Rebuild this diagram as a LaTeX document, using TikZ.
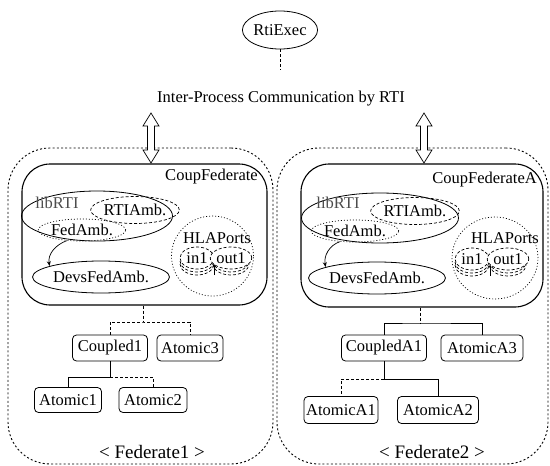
\documentclass[tikz,border=0pt]{standalone}
\usepackage{fontspec}
\setmainfont{Liberation Serif}
\usetikzlibrary{shapes.geometric,arrows.meta}
\begin{document}
\begin{tikzpicture}[x=1pt,y=-1pt,
  every node/.style={font=\fontsize{16.5}{18}\selectfont},
  lbl/.style={inner sep=0pt},
  elli/.style={ellipse, draw, line width=0.8pt, inner sep=0pt},
  dashelli/.style={ellipse, draw, line width=0.7pt, dash pattern=on 3pt off 2pt, inner sep=0pt},
  dotelli/.style={ellipse, draw, line width=0.7pt, dash pattern=on 1pt off 2pt, inner sep=0pt},
  mbox/.style={draw, rounded corners=4pt, line width=0.8pt, minimum height=26pt, inner sep=0pt},
  fedbox/.style={draw, dash pattern=on 2pt off 2.2pt, line width=0.9pt, rounded corners=42pt, inner sep=0pt},
  coupbox/.style={draw, line width=1.1pt, rounded corners=28pt, inner sep=0pt},
  link/.style={line width=0.7pt},
  dlink/.style={line width=0.7pt, dash pattern=on 3pt off 2pt},
  bigtitle/.style={inner sep=0pt, font=\fontsize{19}{21}\selectfont},
  ipcarrow/.pic={
    \draw[line width=0.7pt, fill=white]
      (0,-25) -- (8,-12) -- (3.5,-12) -- (3.5,12) -- (8,12) -- (0,25)
      -- (-8,12) -- (-3.5,12) -- (-3.5,-12) -- (-8,-12) -- cycle;
  },
]
\useasboundingbox (0,0) rectangle (550,466);

% RTI executive and the communication layer
\node[ellipse, draw, line width=0.8pt, minimum width=72pt, minimum height=38pt, inner sep=0pt] (rti) at (280,30) {RtiExec};
\coordinate (rtiend) at (280,70);
\draw[dlink] (rti.south) -- (rtiend);
\node[lbl] (ipc) at (281,99) {Inter-Process Communication by RTI};

% ---------------- Federate 1 ----------------
\node[fedbox, minimum width=265pt, minimum height=316pt] (fed1) at (140.5,306) {};
\node[coupbox, minimum width=245pt, minimum height=141pt] (cp1) at (144.5,234.5) {};
\pic at (151,138) {ipcarrow};
\node[lbl, anchor=east] (cp1lbl) at (258,177) {CoupFederate};

\node[elli, minimum width=151pt, minimum height=50pt] (lib1) at (97,216) {};
\node[lbl, text=black!70] (lib1lbl) at (57,203) {libRTI};
\node[dashelli, minimum width=80pt, minimum height=27pt] (rtiamb1) at (135,210) {RTIAmb.};
\node[dotelli, minimum width=70pt, minimum height=22pt] (fedamb1) at (82,230) {FedAmb.};
\node[elli, minimum width=137pt, minimum height=32pt] (devs1) at (101,277) {DevsFedAmb.};
\draw[link, -{Stealth[length=5pt,width=4pt]}] (fedamb1.215) to[out=200, in=100] (devs1.168);

\node[dotelli, minimum width=82pt, minimum height=80pt] (hla1) at (212.5,256) {};
\node[lbl] (hla1lbl) at (217,238) {HLAPorts};
\foreach \dy in {3,6} {
  \draw[dlink] (180,258+\dy) arc[start angle=180, end angle=0, x radius=17, y radius=11];
  \draw[dlink] (213,258+\dy) arc[start angle=180, end angle=0, x radius=18, y radius=11];
}
\node[dashelli, minimum width=34pt, minimum height=22pt, fill=white] (in1) at (197,258) {in1};
\node[dashelli, minimum width=36pt, minimum height=22pt, fill=white] (out1) at (231,258) {out1};
\coordinate (port1) at (214,275);
\draw[link, -{Stealth[length=3pt,width=3pt]}] (port1) -- (214,264);

\node[mbox, minimum width=75pt] (c1) at (110,348) {Coupled1};
\node[mbox, minimum width=66pt] (a3) at (190,348) {Atomic3};
\node[mbox, minimum width=67pt, minimum height=25pt] (a1) at (68,400) {Atomic1};
\node[mbox, minimum width=68pt, minimum height=25pt] (a2) at (153,400) {Atomic2};
\coordinate (j1) at (143,322);
\coordinate (k1) at (110,377);
\draw[dlink] (cp1.south -| j1) -- (j1);
\draw[dlink] (c1.north) |- (j1) -| (a3.north);
\draw[link] (c1.south) -- (k1) -| (a1.north);
\draw[dlink] (k1) -| (a2.north);
\node[bigtitle] (f1lbl) at (152,452) {< Federate1 >};

% ---------------- Federate 2 ----------------
\node[fedbox, minimum width=271pt, minimum height=316pt] (fed2) at (412.5,306) {};
\node[coupbox, minimum width=242pt, minimum height=143pt] (cp2) at (422,235.5) {};
\pic at (424,138) {ipcarrow};
\node[lbl, anchor=east] (cp2lbl) at (537,180) {CoupFederateA};

\node[elli, minimum width=157pt, minimum height=50pt] (lib2) at (380,218) {};
\node[lbl, text=black!70] (lib2lbl) at (338,203) {libRTI};
\node[dashelli, minimum width=80pt, minimum height=27pt] (rtiamb2) at (415,211) {RTIAmb.};
\node[dotelli, minimum width=70pt, minimum height=22pt] (fedamb2) at (355,231) {FedAmb.};
\node[elli, minimum width=137pt, minimum height=32pt] (devs2) at (377,278) {DevsFedAmb.};
\draw[link, -{Stealth[length=5pt,width=4pt]}] (fedamb2.215) to[out=200, in=100] (devs2.168);

\node[dotelli, minimum width=86pt, minimum height=82pt] (hla2) at (495,258) {};
\node[lbl] (hla2lbl) at (505,238) {HLAPorts};
\foreach \dy in {3,6} {
  \draw[dlink] (455,259+\dy) arc[start angle=180, end angle=0, x radius=17, y radius=11];
  \draw[dlink] (490,259+\dy) arc[start angle=180, end angle=0, x radius=18, y radius=11];
}
\node[dashelli, minimum width=34pt, minimum height=22pt, fill=white] (in2) at (472,259) {in1};
\node[dashelli, minimum width=36pt, minimum height=22pt, fill=white] (out2) at (508,259) {out1};
\coordinate (port2) at (490,276);
\draw[link, -{Stealth[length=3pt,width=3pt]}] (port2) -- (490,265);

\node[mbox, minimum width=85pt] (c2) at (384,348) {CoupledA1};
\node[mbox, minimum width=82pt] (a6) at (482,348) {AtomicA3};
\node[mbox, minimum width=74pt, minimum height=27pt] (a4) at (341,410) {AtomicA1};
\node[mbox, minimum width=81pt, minimum height=27pt] (a5) at (438,410) {AtomicA2};
\coordinate (j2) at (420,323);
\coordinate (k2) at (384,379);
\draw[dlink] (cp2.south -| j2) -- (j2);
\draw[link] (c2.north) |- (j2) -| (a6.north);
\draw[link] (c2.south) -- (k2) -| (a5.north);
\draw[dlink] (k2) -| (a4.north);
\node[bigtitle] (f2lbl) at (432,452) {< Federate2 >};
\end{tikzpicture}
\end{document}
